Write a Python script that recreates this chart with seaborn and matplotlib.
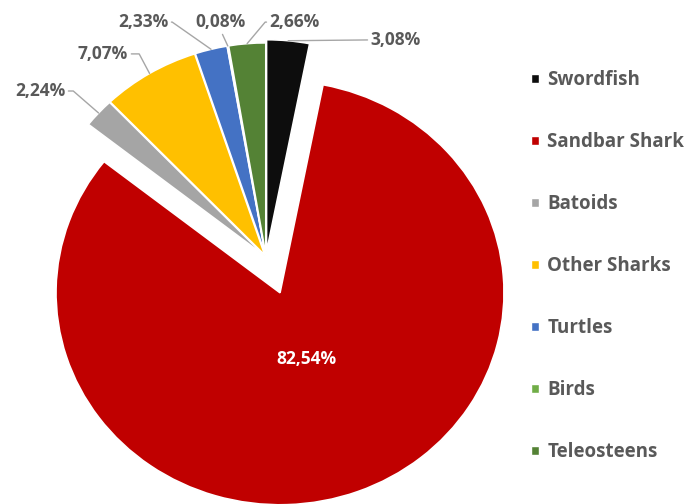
import numpy as np
import matplotlib
matplotlib.use("Agg")
import matplotlib.pyplot as plt
from matplotlib.patches import Patch
import seaborn as sns

# bycatch composition (%)
species = ["Swordfish", "Sandbar Shark", "Batoids", "Other Sharks", "Turtles", "Birds", "Teleosteens"]
shares = [3.08, 82.54, 2.24, 7.07, 2.33, 0.08, 2.66]
colors = ["#0d0d0d", "#c00000", "#a5a5a5", "#ffc000", "#4472c4", "#70ad47", "#548235"]

explode = [0.025, 0.18, 0.01, 0.01, 0.01, 0.01, 0.01]

# where the outside labels sit (data coords) and how the leader bends (None = straight)
label_xy = [(0.58, 1.024), None, (-1.009, 0.783), (-0.728, 0.958),
            (-0.549, 1.108), (-0.201, 1.108), (0.129, 1.108)]
leader_angle = [None, None, 139, 118, 145, None, 50]
leader_relpos = [(0, 0.5), None, (1, 0.5), (1, 0.5), (1, 0.5), (0.5, 0), (0, 0.5)]

sns.set_style("white")
plt.rcParams["font.family"] = ["Open Sans", "DejaVu Sans"]

grey_txt = "#595959"
line_col = "#a6a6a6"

fig = plt.figure(figsize=(6.86, 5.04), dpi=100)
ax = fig.add_axes([0, 0, 1, 1])
wedges, _ = ax.pie(shares, colors=colors, explode=explode, startangle=90,
                   counterclock=False,
                   wedgeprops=dict(edgecolor="white", linewidth=1.2))
ax.set_aspect("auto")
ax.set_xlim(-266 / 224, (686 - 266) / 224)
ax.set_ylim(-247 / 212, 257 / 212)
ax.axis("off")

for i, w in enumerate(wedges):
    mid = np.deg2rad((w.theta1 + w.theta2) / 2)
    cx, cy = w.center
    txt = f"{shares[i]:.2f}%".replace(".", ",")
    if label_xy[i] is None:
        ax.text(cx + 0.34 * np.cos(mid), cy + 0.335 * np.sin(mid), txt,
                color="white", fontsize=12.5, fontweight="bold",
                ha="center", va="center")
        continue
    tip = (cx + w.r * np.cos(mid), cy + w.r * np.sin(mid))
    if leader_angle[i] is None:
        cs = "arc3,rad=0"
    else:
        cs = f"angle,angleA=0,angleB={leader_angle[i]},rad=0"
    ax.annotate(txt, xy=tip, xytext=label_xy[i], color=grey_txt,
                fontsize=12.5, fontweight="bold", ha="center", va="center",
                arrowprops=dict(arrowstyle="-", color=line_col, lw=1,
                                connectionstyle=cs, relpos=leader_relpos[i],
                                shrinkA=0, shrinkB=0))

handles = [Patch(facecolor=c) for c in colors]
leg = ax.legend(handles, species, loc="center left",
                bbox_to_anchor=(531 / 686, 0.472), bbox_transform=fig.transFigure,
                frameon=False, handlelength=0.42, handleheight=0.42,
                handletextpad=0.45, labelspacing=2.24, borderpad=0,
                borderaxespad=0, prop=dict(weight="bold", size=13.5))
for t in leg.get_texts():
    t.set_color(grey_txt)

fig.savefig("out.png", dpi=100)
